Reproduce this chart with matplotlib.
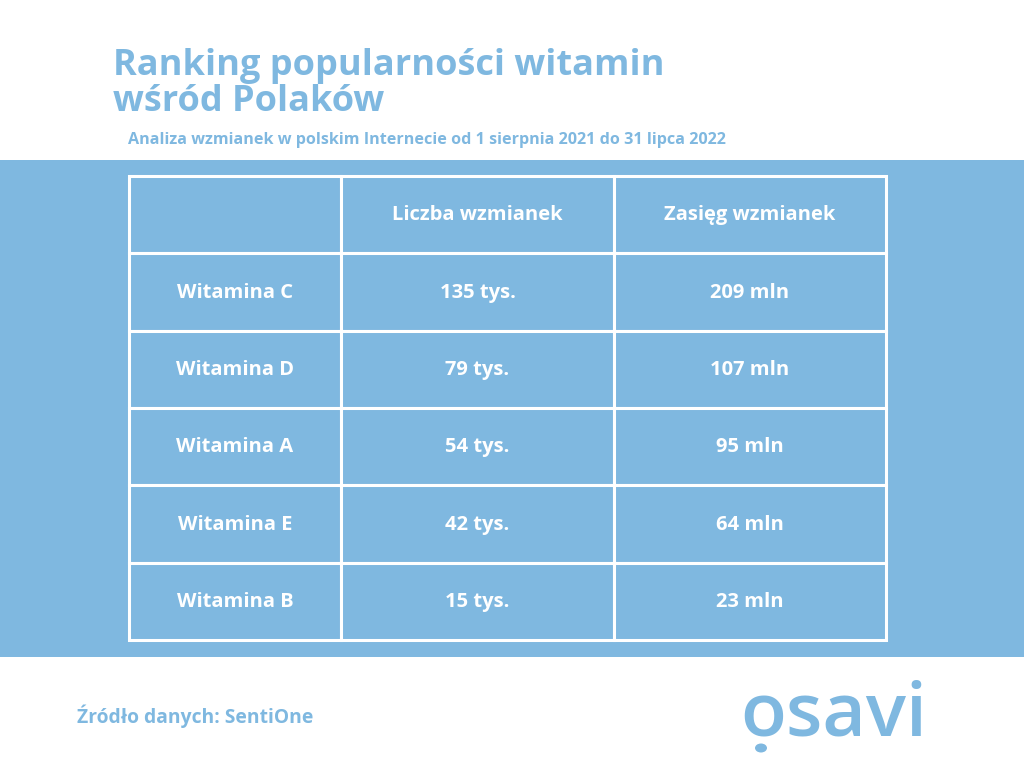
import matplotlib.pyplot as plt
from matplotlib.patches import Rectangle, Circle

BLUE = "#7fb8e0"
plt.rcParams["font.family"] = ["Open Sans", "DejaVu Sans"]

header = ["", "Liczba wzmianek", "Zasięg wzmianek"]
vitamins = ["Witamina C", "Witamina D", "Witamina A", "Witamina E", "Witamina B"]
mentions = ["135 tys.", "79 tys.", "54 tys.", "42 tys.", "15 tys."]
reach = ["209 mln", "107 mln", "95 mln", "64 mln", "23 mln"]

W, H = 1024, 768
fig = plt.figure(figsize=(W / 100, H / 100), dpi=100)
fig.patch.set_facecolor("white")

# blue band behind the table
band = fig.add_axes([0, 1 - 657 / H, 1, (657 - 160) / H])
band.set_facecolor(BLUE)
band.set_xticks([])
band.set_yticks([])
for s in band.spines.values():
    s.set_visible(False)

# table
x0, x1, y0, y1 = 129, 886, 176, 640
ax = fig.add_axes([x0 / W, 1 - y1 / H, (x1 - x0) / W, (y1 - y0) / H])
ax.set_xlim(0, 757)
ax.set_ylim(6, 0)
ax.axis("off")
col_edges = [0, 212, 485, 757]
rows = [header] + [[v, m, r] for v, m, r in zip(vitamins, mentions, reach)]
for i, row in enumerate(rows):
    for j, txt in enumerate(row):
        ax.add_patch(Rectangle((col_edges[j], i), col_edges[j + 1] - col_edges[j], 1,
                               facecolor=BLUE, edgecolor="white", linewidth=2.2,
                               clip_on=False))
        if txt:
            ax.text((col_edges[j] + col_edges[j + 1]) / 2, i + 0.51, txt,
                    ha="center", va="center", color="white",
                    fontsize=14.5, fontweight="bold")

fig.text(113 / W, 1 - 75 / H, "Ranking popularności witamin",
         ha="left", va="baseline", color=BLUE, fontsize=26, fontweight="bold")
fig.text(113 / W, 1 - 111 / H, "wśród Polaków",
         ha="left", va="baseline", color=BLUE, fontsize=26, fontweight="bold")
fig.text(128 / W, 1 - 144 / H,
         "Analiza wzmianek w polskim Internecie od 1 sierpnia 2021 do 31 lipca 2022",
         ha="left", va="baseline", color=BLUE, fontsize=11.6, fontweight="bold")
fig.text(77 / W, 1 - 723 / H, "Źródło danych: SentiOne", ha="left", va="baseline",
         color=BLUE, fontsize=13.9, fontweight="bold")

# logo
fig.text(740 / W, 1 - 735 / H, "osavi", ha="left", va="baseline", color=BLUE,
         fontsize=54, fontweight="semibold")
fig.add_artist(Circle((761 / W, 1 - 748 / H), 6 / W, transform=fig.transFigure,
                      facecolor=BLUE, edgecolor="none"))

fig.savefig("out.png", dpi=100, facecolor="white")
